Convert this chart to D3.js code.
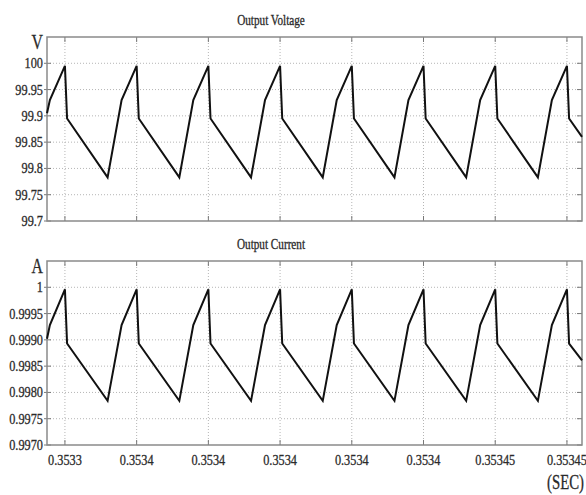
<!DOCTYPE html>
<html>
<head>
<meta charset="utf-8">
<script src="https://cdn.jsdelivr.net/npm/d3@7"></script>
<style>
  body { margin: 0; background: #fff; }
  .lbl { font-family: "Liberation Serif", "Times New Roman", serif; fill: #2a2a2a; stroke: #2a2a2a; stroke-width: 0.3; }
</style>
</head>
<body>
<div id="chart"></div>
<script>
// time in microseconds, relative to the first tick
var timeUs = [-5, -4.2, 0,
  0.6, 11.9, 15.8, 20,
  20.6, 31.9, 35.8, 40,
  40.6, 51.9, 55.8, 60,
  60.6, 71.9, 75.8, 80,
  80.6, 91.9, 95.8, 100,
  100.6, 111.9, 115.8, 120,
  120.6, 131.9, 135.8, 140,
  140.6, 144.2];

var voltage = [99.905, 99.93, 99.995,
  99.895, 99.783, 99.93, 99.995,
  99.895, 99.783, 99.93, 99.995,
  99.895, 99.783, 99.93, 99.995,
  99.895, 99.783, 99.93, 99.995,
  99.895, 99.783, 99.93, 99.995,
  99.895, 99.783, 99.93, 99.995,
  99.895, 99.783, 99.93, 99.995,
  99.895, 99.86];

var current = [0.99902, 0.99928, 0.99996,
  0.99893, 0.99784, 0.99928, 0.99996,
  0.99893, 0.99784, 0.99928, 0.99996,
  0.99893, 0.99784, 0.99928, 0.99996,
  0.99893, 0.99784, 0.99928, 0.99996,
  0.99893, 0.99784, 0.99928, 0.99996,
  0.99893, 0.99784, 0.99928, 0.99996,
  0.99893, 0.99784, 0.99928, 0.99996,
  0.99893, 0.99861];

var xTicks = [0, 20, 40, 60, 80, 100, 120, 140];
var xTickLabels = ["0.3533", "0.3534", "0.3534", "0.3534", "0.3534", "0.3534", "0.35345", "0.35345"];

var vTicks = [100, 99.95, 99.9, 99.85, 99.8, 99.75, 99.7];
var vTickLabels = ["100", "99.95", "99.9", "99.85", "99.8", "99.75", "99.7"];
var iTicks = [1, 0.9995, 0.999, 0.9985, 0.998, 0.9975, 0.997];
var iTickLabels = ["1", "0.9995", "0.9990", "0.9985", "0.9980", "0.9975", "0.9970"];

var W = 586, H = 495;
var left = 47, right = 582;

var svg = d3.select("#chart").append("svg")
    .attr("width", W)
    .attr("height", H);

var x = d3.scaleLinear()
    .domain([-5, 144.2])
    .range([left, right]);

// squeezed serif text, the figure uses a narrow font
function label(g, tx, ty, str, size, anchor, sx) {
  g.append("text")
    .attr("class", "lbl")
    .attr("transform", "translate(" + tx + "," + ty + ") scale(" + sx + ",1)")
    .attr("text-anchor", anchor)
    .style("font-size", size + "px")
    .text(str);
}

function panel(top, bottom, yDomain, ticks, tickLabels, values, title, unit, showX) {
  var y = d3.scaleLinear().domain(yDomain).range([bottom, top]);
  var g = svg.append("g");

  // grid
  g.selectAll(".hg").data(ticks.slice(0, -1)).enter().append("line")
    .attr("x1", left).attr("x2", right)
    .attr("y1", function(d) { return y(d); })
    .attr("y2", function(d) { return y(d); })
    .attr("stroke", "#b5b5b5").attr("stroke-width", 1)
    .attr("stroke-dasharray", "1,2");
  g.selectAll(".vg").data(xTicks).enter().append("line")
    .attr("x1", function(d) { return x(d); })
    .attr("x2", function(d) { return x(d); })
    .attr("y1", top).attr("y2", bottom)
    .attr("stroke", "#b5b5b5").attr("stroke-width", 1)
    .attr("stroke-dasharray", "1,2");

  // tick marks
  g.selectAll(".tt").data(xTicks).enter().append("line")
    .attr("x1", function(d) { return x(d); })
    .attr("x2", function(d) { return x(d); })
    .attr("y1", top).attr("y2", top + 5)
    .attr("stroke", "#777");
  g.selectAll(".bt").data(xTicks).enter().append("line")
    .attr("x1", function(d) { return x(d); })
    .attr("x2", function(d) { return x(d); })
    .attr("y1", bottom).attr("y2", bottom - 5)
    .attr("stroke", "#777");
  g.selectAll(".lt").data(ticks).enter().append("line")
    .attr("x1", left - 3).attr("x2", left + 4)
    .attr("y1", function(d) { return y(d); })
    .attr("y2", function(d) { return y(d); })
    .attr("stroke", "#777");
  g.selectAll(".rt").data(ticks).enter().append("line")
    .attr("x1", right - 5).attr("x2", right)
    .attr("y1", function(d) { return y(d); })
    .attr("y2", function(d) { return y(d); })
    .attr("stroke", "#777");

  // frame
  g.append("rect")
    .attr("x", left).attr("y", top)
    .attr("width", right - left).attr("height", bottom - top)
    .attr("fill", "none").attr("stroke", "#8a8a8a").attr("stroke-width", 1.5);

  // signal
  var line = d3.line()
    .x(function(d, i) { return x(timeUs[i]); })
    .y(function(d) { return y(d); });
  g.append("path")
    .attr("d", line(values))
    .attr("fill", "none")
    .attr("stroke", "#111")
    .attr("stroke-width", 2)
    .attr("stroke-linejoin", "miter");

  // y labels
  ticks.forEach(function(t, i) {
    label(g, left - 4, y(t) + 5, tickLabels[i], 15, "end", 0.82);
  });
  label(g, left - 4, top + 12, unit, 22, "end", 0.72);
  label(g, 271, top - 12, title, 14, "middle", 0.8);

  if (showX) {
    xTicks.forEach(function(t, i) {
      label(g, x(t), bottom + 20, xTickLabels[i], 15, "middle", 0.82);
    });
  }
}

panel(37, 221, [99.7, 100.05], vTicks, vTickLabels, voltage, "Output Voltage", "V", false);
panel(261, 445, [0.997, 1.0005], iTicks, iTickLabels, current, "Output Current", "A", true);

label(svg, 584, 489, "(SEC)", 20, "end", 0.74);
</script>
</body>
</html>
